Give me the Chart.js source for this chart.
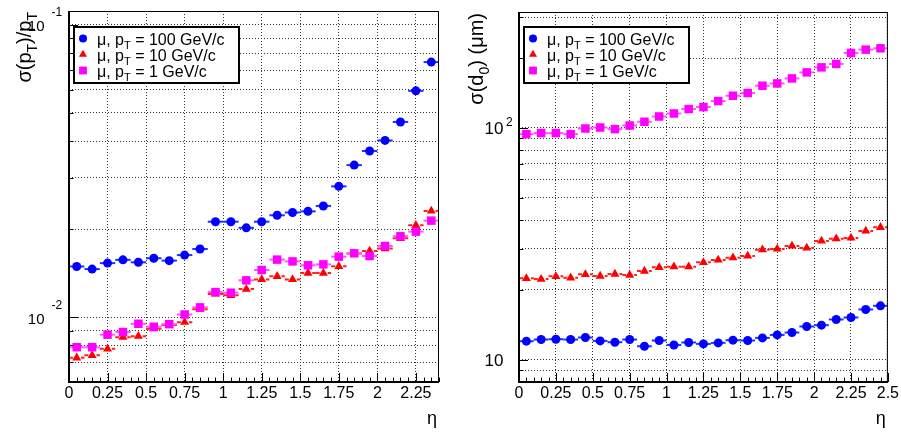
<!DOCTYPE html>
<html lang="en">
<head>
  <meta charset="UTF-8">
  <title>Muon track resolution vs eta</title>
  <script src="https://cdn.jsdelivr.net/npm/chart.js"></script>
  <style>
    html, body { margin: 0; padding: 0; background: #fff; }
    #wrap { position: relative; width: 901px; height: 436px; }
    canvas { position: absolute; top: 0; }
    #ptRes { left: 0; }
    #d0Res { left: 450px; }
  </style>
</head>
<body>
<div id="wrap">
  <canvas id="ptRes" width="450" height="436"></canvas>
  <canvas id="d0Res" width="451" height="436"></canvas>
</div>

<script>
// eta bin centres
const etaPt = [0.05, 0.15, 0.25, 0.35, 0.45, 0.55, 0.65, 0.75, 0.85, 0.95, 1.05, 1.15,
               1.25, 1.35, 1.45, 1.55, 1.65, 1.75, 1.85, 1.95, 2.05, 2.15, 2.25, 2.35];
const etaD0 = [0.05, 0.15, 0.25, 0.35, 0.45, 0.55, 0.65, 0.75, 0.85, 0.95, 1.05, 1.15,
               1.25, 1.35, 1.45, 1.55, 1.65, 1.75, 1.85, 1.95, 2.05, 2.15, 2.25, 2.35, 2.45];
const binHalfWidth = 0.05;

// sigma(pT)/pT
const ptRes100 = [0.0149, 0.0146, 0.0153, 0.0157, 0.0154, 0.0159, 0.0156, 0.0163, 0.0171, 0.0212, 0.0212, 0.0202,
                  0.0212, 0.0223, 0.0228, 0.0230, 0.0240, 0.0280, 0.0331, 0.0370, 0.0402, 0.0465, 0.0594, 0.0745];
const ptRes10  = [0.00726, 0.00740, 0.00779, 0.00854, 0.00861, 0.00913, 0.00939, 0.00961, 0.01065, 0.01200, 0.01187, 0.01247,
                  0.01346, 0.01379, 0.01346, 0.01415, 0.01415, 0.01492, 0.01650, 0.01683, 0.01715, 0.01860, 0.02061, 0.02307];
const ptRes1   = [0.00789, 0.00789, 0.00871, 0.00889, 0.00949, 0.00927, 0.00946, 0.01021, 0.01080, 0.01218, 0.01212, 0.01336,
                  0.01449, 0.01573, 0.01551, 0.01504, 0.01515, 0.01610, 0.01653, 0.01618, 0.01751, 0.01890, 0.01961, 0.02138];

// sigma(d0) in micrometres
const d0Res100 = [12.0, 12.2, 12.24, 12.2, 12.45, 12.03, 11.88, 12.2, 11.41, 12.08, 11.56, 11.85,
                  11.68, 11.80, 12.12, 12.08, 12.40, 12.77, 13.08, 13.89, 14.07, 14.89, 15.19, 16.45, 17.05];
const d0Res10  = [22.4, 22.24, 22.85, 22.53, 23.31, 22.92, 23.38, 23.15, 24.09, 24.99, 25.14, 25.14,
                  26.27, 26.88, 27.50, 27.97, 29.78, 29.99, 30.90, 30.29, 32.48, 33.23, 33.46, 35.86, 37.21];
const d0Res1   = [93.9, 94.9, 94.9, 93.9, 99.3, 100.3, 98.7, 102.3, 106.2, 111.9, 115.3, 120.5,
                  122.9, 130.4, 137.5, 141.3, 151.9, 155.4, 163.3, 173.4, 182.3, 188.6, 210.4, 217.4, 220.3];

// "_X" marks a one-character subscript
const seriesNames = ['μ, p_T = 100 GeV/c', 'μ, p_T = 10 GeV/c', 'μ, p_T = 1 GeV/c'];

// axes
const etaTicksPt = [0, 0.25, 0.5, 0.75, 1, 1.25, 1.5, 1.75, 2, 2.25];
const etaTicksD0 = [0, 0.25, 0.5, 0.75, 1, 1.25, 1.5, 1.75, 2, 2.25, 2.5];
const ptGrid = [0.007, 0.008, 0.009, 0.01, 0.02, 0.03, 0.04, 0.05, 0.06, 0.07, 0.08, 0.09, 0.1];
const d0Grid = [9, 10, 20, 30, 40, 50, 60, 70, 80, 90, 100, 200, 300];
const ptDecades = [0.01, 0.1];
const ptDecadeExp = ['-2', '-1'];
const d0Decades = [10, 100];
const d0DecadeExp = ['', '2'];

const FONT = '"Liberation Sans", Arial, Helvetica, sans-serif';
const colors = ['#0000ff', '#ff0000', '#ff00ff'];
const barColors = ['#2233ff', '#ff2020', '#ff55ff'];
const barDash = [[], [4, 2], []];
const styles = ['circle', 'triangle', 'rect'];
const radii = [4.5, 5.2, 6];

function parts(str) {
  const out = [];
  str.split(/(_.)/).forEach(s => {
    if (!s) return;
    if (s[0] === '_' && s.length === 2) out.push({ t: s[1], sub: true });
    else out.push({ t: s, sub: false });
  });
  return out;
}

function richWidth(ctx, str, size) {
  let w = 0;
  parts(str).forEach(p => {
    ctx.font = (p.sub ? Math.round(size * 0.7) : size) + 'px ' + FONT;
    w += ctx.measureText(p.t).width;
  });
  return w;
}

function drawRich(ctx, str, x, y, size) {
  ctx.textAlign = 'left';
  ctx.textBaseline = 'alphabetic';
  parts(str).forEach(p => {
    ctx.font = (p.sub ? Math.round(size * 0.7) : size) + 'px ' + FONT;
    ctx.fillText(p.t, x, y + (p.sub ? size * 0.28 : 0));
    x += ctx.measureText(p.t).width;
  });
}

function marker(ctx, style, x, y, r, color) {
  ctx.fillStyle = color;
  ctx.beginPath();
  if (style === 'circle') {
    ctx.arc(x, y, r, 0, 2 * Math.PI);
  } else if (style === 'triangle') {
    ctx.moveTo(x, y - r);
    ctx.lineTo(x + r * 0.866, y + r * 0.5);
    ctx.lineTo(x - r * 0.866, y + r * 0.5);
    ctx.closePath();
  } else {
    const s = r * Math.SQRT1_2;
    ctx.rect(x - s, y - s, 2 * s, 2 * s);
  }
  ctx.fill();
}

const rootStyle = {
  id: 'rootStyle',
  beforeDatasetsDraw(chart) {
    const ctx = chart.ctx, xs = chart.scales.x;
    ctx.save();
    chart.data.datasets.forEach((ds, i) => {
      const meta = chart.getDatasetMeta(i);
      ctx.strokeStyle = barColors[i];
      ctx.lineWidth = 2;
      ctx.setLineDash(barDash[i]);
      meta.data.forEach((pt, j) => {
        const xv = ds.data[j].x;
        ctx.beginPath();
        ctx.moveTo(xs.getPixelForValue(xv - binHalfWidth), pt.y);
        ctx.lineTo(xs.getPixelForValue(xv + binHalfWidth), pt.y);
        ctx.stroke();
      });
    });
    ctx.restore();
  },
  afterDraw(chart, args, o) {
    const ctx = chart.ctx, a = chart.chartArea;
    const xs = chart.scales.x, ys = chart.scales.y;
    ctx.save();
    ctx.setLineDash([]);
    ctx.strokeStyle = '#000';
    ctx.fillStyle = '#000';

    // frame
    ctx.lineWidth = 1;
    ctx.strokeRect(a.left, a.top + 0.5, a.right - a.left - 0.5, a.bottom - a.top);
    ctx.lineWidth = 2;
    ctx.beginPath();
    ctx.moveTo(a.left, a.top);
    ctx.lineTo(a.left, a.bottom);
    ctx.lineTo(a.right, a.bottom);
    ctx.stroke();

    // tick marks pointing into the frame
    ctx.lineWidth = 1;
    for (let k = 0; k * 0.05 <= xs.max + 1e-9; k++) {
      const v = k * 0.05;
      const major = Math.abs(v / 0.25 - Math.round(v / 0.25)) < 1e-6;
      const px = Math.round(xs.getPixelForValue(v)) + 0.5;
      ctx.beginPath();
      ctx.moveTo(px, a.bottom);
      ctx.lineTo(px, a.bottom - (major ? 9 : 4.5));
      ctx.stroke();
    }
    o.grid.forEach(v => {
      const major = o.decades.includes(v);
      const py = Math.round(ys.getPixelForValue(v)) + 0.5;
      ctx.beginPath();
      ctx.moveTo(a.left, py);
      ctx.lineTo(a.left + (major ? 9 : 4.5), py);
      ctx.stroke();
    });

    // decade labels 10^n
    o.decades.forEach((v, i) => {
      const py = ys.getPixelForValue(v);
      ctx.font = o.labelSize + 'px ' + FONT;
      ctx.textAlign = 'right';
      ctx.textBaseline = 'alphabetic';
      ctx.fillText('10', o.labelRight, py + 6.5);
      if (o.exp[i]) {
        ctx.font = '12px ' + FONT;
        ctx.textAlign = 'left';
        ctx.fillText(o.exp[i], o.expLeft, py + o.expDy);
      }
    });

    // y title, rotated and pushed to the top of the axis
    ctx.save();
    ctx.translate(o.titleX, a.top + 1);
    ctx.rotate(-Math.PI / 2);
    drawRich(ctx, o.yTitle, -richWidth(ctx, o.yTitle, 20), 0, 20);
    ctx.restore();

    // x title
    ctx.font = '18px ' + FONT;
    ctx.textAlign = 'right';
    ctx.textBaseline = 'alphabetic';
    ctx.fillText('η', a.right - 2, 424);

    // legend
    const L = { x: 74, y: 27, w: 165, h: 56 };
    ctx.fillStyle = '#fff';
    ctx.fillRect(L.x, L.y, L.w, L.h);
    ctx.lineWidth = 2;
    ctx.strokeStyle = '#000';
    ctx.strokeRect(L.x, L.y, L.w, L.h);
    seriesNames.forEach((name, i) => {
      const ry = L.y + 11.5 + i * 16;
      marker(ctx, styles[i], L.x + 9, ry, radii[i] - 0.5, colors[i]);
      ctx.fillStyle = '#000';
      drawRich(ctx, name, L.x + 23, ry + 6, 16);
    });
    ctx.restore();
  }
};

function makeChart(id, cfg) {
  return new Chart(document.getElementById(id), {
    type: 'scatter',
    data: {
      datasets: cfg.series.map((ys, i) => ({
        label: seriesNames[i],
        data: cfg.eta.map((x, j) => ({ x: x, y: ys[j] })),
        pointStyle: styles[i],
        pointRadius: radii[i],
        backgroundColor: colors[i],
        borderWidth: 0,
        order: 2 - i
      }))
    },
    options: {
      responsive: false,
      animation: false,
      events: [],
      layout: { padding: { left: 0, top: cfg.top, right: cfg.right, bottom: 0 } },
      plugins: {
        legend: { display: false },
        tooltip: { enabled: false },
        rootStyle: cfg.style
      },
      scales: {
        x: {
          type: 'linear',
          min: 0,
          max: cfg.xMax,
          afterBuildTicks: s => { s.ticks = cfg.xTicks.map(v => ({ value: v })); },
          afterFit: s => { s.height = 54; },
          ticks: {
            color: '#000',
            font: { family: FONT, size: 16 },
            padding: 2,
            maxRotation: 0,
            autoSkip: false,
            callback: v => String(v)
          },
          grid: { color: '#333', lineWidth: 1, drawTicks: false },
          border: { display: false, dash: [1, 2] }
        },
        y: {
          type: 'logarithmic',
          min: cfg.yMin,
          max: cfg.yMax,
          afterBuildTicks: s => { s.ticks = cfg.grid.map(v => ({ value: v })); },
          afterFit: s => { s.width = 69; },
          ticks: { display: false },
          grid: { color: '#333', lineWidth: 1, drawTicks: false },
          border: { display: false, dash: [1, 2] }
        }
      }
    },
    plugins: [rootStyle]
  });
}

makeChart('ptRes', {
  eta: etaPt,
  series: [ptRes100, ptRes10, ptRes1],
  xMax: 2.4, xTicks: etaTicksPt,
  yMin: 0.006, yMax: 0.1114, grid: ptGrid,
  top: 11, right: 11,
  style: {
    yTitle: 'σ(p_T)/p_T', titleX: 31,
    grid: ptGrid, decades: ptDecades, exp: ptDecadeExp,
    labelSize: 15, labelRight: 44.5, expLeft: 51.5, expDy: -8.5
  }
});

makeChart('d0Res', {
  eta: etaD0,
  series: [d0Res100, d0Res10, d0Res1],
  xMax: 2.5, xTicks: etaTicksD0,
  yMin: 8, yMax: 316, grid: d0Grid,
  top: 12, right: 12,
  style: {
    yTitle: 'σ(d_0) (μm)', titleX: 33,
    grid: d0Grid, decades: d0Decades, exp: d0DecadeExp,
    labelSize: 17, labelRight: 53.5, expLeft: 56, expDy: -1.5
  }
});
</script>
</body>
</html>
